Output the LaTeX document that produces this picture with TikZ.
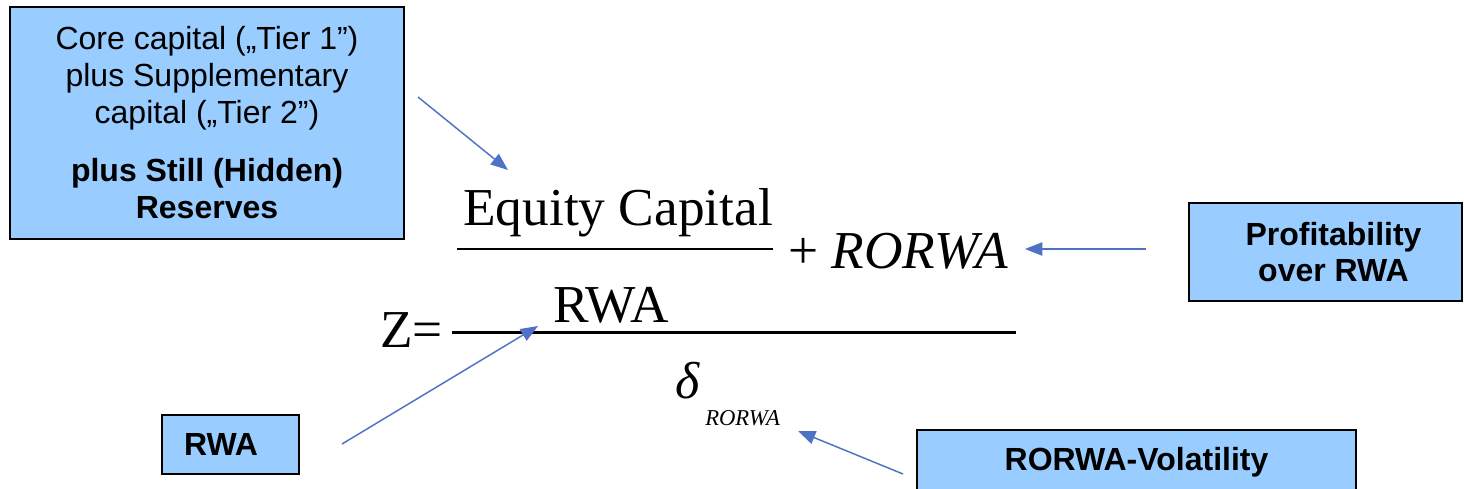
\documentclass[tikz,border=0pt]{standalone}
\usepackage{fontspec}
\setmainfont{Liberation Sans}
\newfontfamily\formel{Liberation Serif}
\usetikzlibrary{arrows.meta, positioning}
\definecolor{celeste}{HTML}{99CCFF}
\definecolor{azulflecha}{HTML}{4F72C4}
\tikzset{
  caja/.style={rectangle, draw=black, line width=1.5pt, fill=celeste,
    align=center, inner sep=0pt},
  flecha/.style={-{Triangle[length=13pt, width=10pt]}, azulflecha, line width=1.1pt},
  formula/.style={font=\formel\fontsize{40}{48}\selectfont, inner sep=0pt,
    anchor=base west}
}

\begin{document}
\begin{tikzpicture}[x=0.75pt, y=-0.75pt,
  texto/.style={font=\bfseries\fontsize{24}{27}\selectfont}]
  \clip (0,0) rectangle (1464,489);

  % --- Cajas ---
  \node[caja, minimum width=295.5pt, minimum height=174pt,
    font=\fontsize{24}{27.75}\selectfont] (capital) at (207,123)
    {Core capital („Tier 1”)\\plus Supplementary\\capital („Tier 2”)\\[15.75pt]
     \textbf{plus Still (Hidden)}\\\textbf{Reserves}};
  \node[caja, texto, minimum width=204.75pt, minimum height=73.5pt]
    (rentab) at (1325.5,252) {\hspace*{12pt}Profitability\\\hspace*{12pt}over RWA};
  \node[caja, texto, anchor=west, minimum height=44.25pt, text width=69.75pt,
    inner xsep=16.5pt, align=left] (rwa) at (161,444.5) {RWA};
  \node[caja, texto, minimum width=329.25pt, minimum height=48pt]
    (volat) at (1136.5,462) {RORWA-Volatility};

  % --- Formula ---
  \node[formula] (equity) at (463,225) {Equity Capital};
  \node[formula] (masror) at (788,268) {+ \textit{RORWA}};
  \node[formula] (rwaden) at (553,322) {RWA};
  \node[formula] (zeta) at (380,347) {Z=};
  \node[formula, font=\formel\itshape\fontsize{39}{44}\selectfont] (delta) at (675,398) {δ};
  \node[formula, font=\formel\itshape\fontsize{17}{20}\selectfont] (sub) at (705,425) {RORWA};
  \draw[line width=1.1pt] (457,249) -- (773,249);   % Equity Capital / RWA
  \draw[line width=2.25pt] (452,332) -- (1016,332); % linea principal

  % --- Flechas ---
  \coordinate (capital-sal) at (418,97);  \coordinate (equity-in) at (508,170);
  \coordinate (rentab-sal) at (1146,249); \coordinate (ror-in) at (1025,249);
  \coordinate (rwa-sal) at (342,444);     \coordinate (rwaden-in) at (538,326);
  \coordinate (volat-sal) at (903,474);   \coordinate (delta-in) at (798,431);
  \draw[flecha] (capital-sal) -- (equity-in);
  \draw[flecha] (rentab-sal) -- (ror-in);
  \draw[flecha] (rwa-sal) -- (rwaden-in);
  \draw[flecha] (volat-sal) -- (delta-in);

\end{tikzpicture}
\end{document}
